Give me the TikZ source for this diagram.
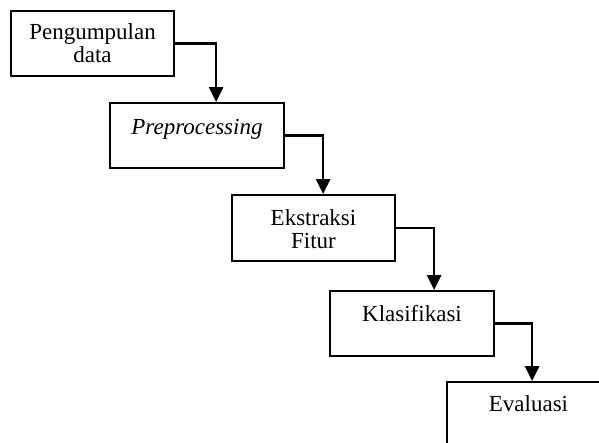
\documentclass[tikz,border=0pt]{standalone}
\usepackage{fontspec}
\setmainfont{Liberation Serif}
\usetikzlibrary{arrows.meta}
\begin{document}
\begin{tikzpicture}[x=1pt,y=-1pt]
\tikzset{box/.style = {draw, line width=1.8pt, minimum width=163pt, minimum height=65pt, inner sep=0pt}}
\tikzset{txt/.style = {anchor=base, align=center, inner sep=0pt, font=\fontsize{23}{23.5}\selectfont}}
\tikzset{edge/.style = {-{Triangle[width=14pt,length=15pt]}, line width=2.6pt}}
\path[use as bounding box, clip] (0,0) rectangle (599,443);
\node[box](s0) at (92.5,43.5) {};
\node[box, minimum width=174pt](s1) at (197,135.5) {};
\node[box, minimum height=66pt](s2) at (313.5,228) {};
\node[box, minimum width=164pt](s3) at (412,323.5) {};
\node[box](s4) at (528.5,414.5) {};
\node[txt](t0) at ([yshift=-52.5pt]s0.north) {Pengumpulan\\data};
\node[txt](t1) at ([yshift=-32pt]s1.north) {\itshape Preprocessing};
\node[txt](t2) at ([yshift=-54.5pt]s2.north) {Ekstraksi\\Fitur};
\node[txt](t3) at ([yshift=-31pt]s3.north) {Klasifikasi};
\node[txt](t4) at ([yshift=-30pt]s4.north) {Evaluasi};
\draw[edge] (s0.east) -| ([xshift=107pt]s1.north west);
\draw[edge] (s1.east) -| ([xshift=92pt]s2.north west);
\draw[edge] (s2.east) -| ([xshift=105pt]s3.north west);
\draw[edge] (s3.east) -| ([xshift=86pt]s4.north west);
\end{tikzpicture}
\end{document}
